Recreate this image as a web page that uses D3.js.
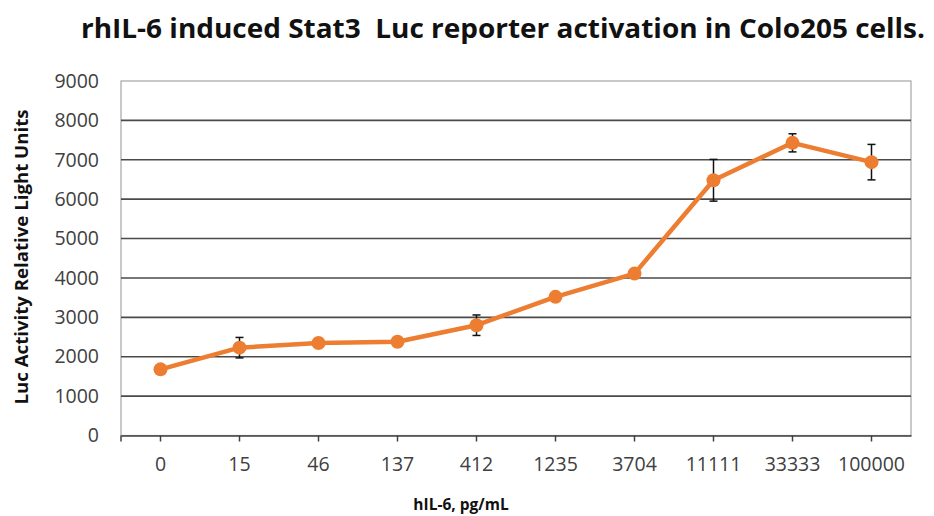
<!DOCTYPE html>
<html>
<head>
<meta charset="utf-8">
<script src="https://cdn.jsdelivr.net/npm/d3@7"></script>
<style>
  html, body { margin: 0; padding: 0; background: #fff; }
  svg { display: block; }
  text { font-family: "Open Sans", "Noto Sans", sans-serif; }
</style>
</head>
<body>
<svg id="chart" width="934" height="516"></svg>
<script>
const categories = ["0", "15", "46", "137", "412", "1235", "3704", "11111", "33333", "100000"];
const values = [1680, 2230, 2350, 2380, 2800, 3520, 4110, 6480, 7430, 6940];
const errors = [60, 260, 60, 60, 260, 80, 80, 530, 230, 450];
const yTicks = [0, 1000, 2000, 3000, 4000, 5000, 6000, 7000, 8000, 9000];

const title = "rhIL-6 induced Stat3  Luc reporter activation in Colo205 cells.";
const xTitle = "hIL-6, pg/mL";
const yTitle = "Luc Activity Relative Light Units";

const W = 934, H = 516;
const m = { left: 121, right: 23, top: 81, bottom: 80.5 };

const svg = d3.select("#chart");

const x = d3.scaleBand().domain(categories).range([m.left, W - m.right]).padding(0);
const y = d3.scaleLinear().domain([0, 9000]).range([H - m.bottom, m.top]);
const cx = d => x(d) + x.bandwidth() / 2;

// Title
svg.append("text")
  .attr("x", 81).attr("y", 38)
  .attr("textLength", 844).attr("lengthAdjust", "spacingAndGlyphs")
  .attr("font-size", 26).attr("font-weight", 700).attr("fill", "#111")
  .style("white-space", "pre")
  .text(title);

// Plot border (light gray)
svg.append("rect")
  .attr("x", m.left).attr("y", m.top)
  .attr("width", W - m.right - m.left).attr("height", y(0) - m.top)
  .attr("fill", "none").attr("stroke", "#a6a6a6").attr("stroke-width", 1.2);

// Gridlines
svg.append("g").selectAll("line")
  .data(yTicks.filter(t => t > 0 && t < 9000))
  .join("line")
  .attr("x1", m.left).attr("x2", W - m.right)
  .attr("y1", d => y(d)).attr("y2", d => y(d))
  .attr("stroke", "#4a4a4a").attr("stroke-width", 1.6);

// Y axis labels
const yAxis = d3.axisLeft(y).tickValues(yTicks).tickSize(0).tickPadding(22).tickFormat(d3.format("d"));
const gy = svg.append("g").attr("transform", `translate(${m.left},0)`).call(yAxis);
gy.select(".domain").remove();
gy.selectAll("text").attr("font-size", 19.5).attr("fill", "#404040")
  .style("font-family", "'Open Sans', sans-serif");

// X axis
const xAxis = d3.axisBottom(x).tickSize(6).tickSizeOuter(0).tickPadding(16);
const gx = svg.append("g").attr("transform", `translate(0,${y(0)})`).call(xAxis);
gx.select(".domain").attr("stroke", "#404040").attr("stroke-width", 1.5);
gx.selectAll(".tick line").attr("stroke", "#404040").attr("stroke-width", 1.5);
gx.selectAll("text").attr("font-size", 19.5).attr("fill", "#404040")
  .style("font-family", "'Open Sans', sans-serif");
gx.append("line").attr("x1", m.left).attr("x2", m.left).attr("y1", 0).attr("y2", 6)
  .attr("stroke", "#404040").attr("stroke-width", 1.5);

// Axis titles
svg.append("text")
  .attr("x", 461).attr("y", 510).attr("text-anchor", "middle")
  .attr("font-size", 15.5).attr("font-weight", 700).attr("fill", "#111")
  .text(xTitle);
svg.append("text")
  .attr("transform", "translate(28,257) rotate(-90)").attr("text-anchor", "middle")
  .attr("textLength", 295).attr("lengthAdjust", "spacingAndGlyphs")
  .attr("font-size", 17).attr("font-weight", 700).attr("fill", "#111")
  .text(yTitle);

const data = categories.map((c, i) => ({ c, v: values[i], e: errors[i] }));

// Error bars
const eb = svg.append("g").attr("stroke", "#111").attr("stroke-width", 1.5);
eb.selectAll("line.v").data(data).join("line").attr("class", "v")
  .attr("x1", d => cx(d.c)).attr("x2", d => cx(d.c))
  .attr("y1", d => y(d.v - d.e)).attr("y2", d => y(d.v + d.e));
eb.selectAll("line.t").data(data).join("line").attr("class", "t")
  .attr("x1", d => cx(d.c) - 4).attr("x2", d => cx(d.c) + 4)
  .attr("y1", d => y(d.v + d.e)).attr("y2", d => y(d.v + d.e));
eb.selectAll("line.b").data(data).join("line").attr("class", "b")
  .attr("x1", d => cx(d.c) - 4).attr("x2", d => cx(d.c) + 4)
  .attr("y1", d => y(d.v - d.e)).attr("y2", d => y(d.v - d.e));

// Line
svg.append("path").datum(data)
  .attr("fill", "none").attr("stroke", "#ED7D31").attr("stroke-width", 4.5)
  .attr("stroke-linejoin", "round")
  .attr("d", d3.line().x(d => cx(d.c)).y(d => y(d.v)));

// Markers
svg.append("g").selectAll("circle").data(data).join("circle")
  .attr("cx", d => cx(d.c)).attr("cy", d => y(d.v)).attr("r", 7)
  .attr("fill", "#ED7D31");
</script>
</body>
</html>
